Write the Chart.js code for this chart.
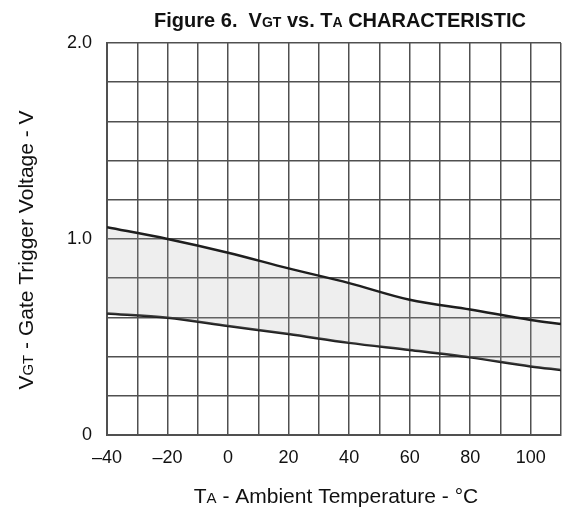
<!DOCTYPE html>
<html>
<head>
<meta charset="utf-8">
<script src="https://cdn.jsdelivr.net/npm/chart.js@4"></script>
<style>
  html, body { margin: 0; padding: 0; background: #fff; }
  #wrap { width: 573px; height: 510px; }
</style>
</head>
<body>
<div id="wrap"><canvas id="vgtChart" width="573" height="510"></canvas></div>
<script>
  // temperatures (°C)
  var temps = [-40, -20, 0, 20, 40, 60, 80, 100, 110];
  // upper and lower bound of the VGT band (V)
  var vgtUpper = [1.06, 1.0, 0.93, 0.85, 0.775, 0.69, 0.64, 0.587, 0.566];
  var vgtLower = [0.62, 0.598, 0.556, 0.515, 0.47, 0.434, 0.396, 0.35, 0.332];

  var xLabels = [-40, -20, 0, 20, 40, 60, 80, 100];
  var yLabels = { 0: '0', 1: '1.0', 2: '2.0' };

  var FONT = '"Liberation Sans", Arial, sans-serif';
  var gridColor = '#505050';

  function toPoints(xs, ys) {
    return xs.map(function (x, i) { return { x: x, y: ys[i] }; });
  }

  // draws a line of text made of several pieces with different fonts
  function drawParts(ctx, parts, cx, cy) {
    var total = 0;
    parts.forEach(function (p) { ctx.font = p[1]; total += ctx.measureText(p[0]).width; });
    var x = cx - total / 2;
    parts.forEach(function (p) {
      ctx.font = p[1];
      ctx.fillText(p[0], x, cy);
      x += ctx.measureText(p[0]).width;
    });
  }

  var textPlugin = {
    id: 'richText',
    afterDraw: function (chart) {
      var ctx = chart.ctx;
      var area = chart.chartArea;
      var mid = (area.left + area.right) / 2;
      ctx.save();
      ctx.fillStyle = '#111';
      ctx.textBaseline = 'alphabetic';

      var big = 'bold 20px ' + FONT, small = 'bold 14px ' + FONT;
      drawParts(ctx, [['Figure 6.  V', big], ['GT', small], [' vs. T', big], ['A', small], [' CHARACTERISTIC', big]], mid + 6, 27);

      // axis titles
      var n = '21px ' + FONT, s = '15px ' + FONT;
      drawParts(ctx, [['T', n], ['A', s], [' - Ambient Temperature - \u00b0C', n]], mid + 2, 503);

      ctx.translate(33, 250);
      ctx.rotate(-Math.PI / 2);
      drawParts(ctx, [['V', n], ['GT', s], [' - Gate Trigger Voltage - V', n]], 0, 0);
      ctx.restore();
    }
  };

  new Chart(document.getElementById('vgtChart').getContext('2d'), {
    type: 'line',
    data: {
      datasets: [
        {
          label: 'upper',
          data: toPoints(temps, vgtUpper),
          borderColor: '#1e1e1e',
          borderWidth: 2.5,
          backgroundColor: 'rgba(170,170,170,0.2)',
          fill: '+1',
          pointRadius: 0,
          cubicInterpolationMode: 'monotone'
        },
        {
          label: 'lower',
          data: toPoints(temps, vgtLower),
          borderColor: '#1e1e1e',
          borderWidth: 2.5,
          fill: false,
          pointRadius: 0,
          cubicInterpolationMode: 'monotone'
        }
      ]
    },
    options: {
      responsive: false,
      animation: false,
      layout: { padding: { top: 43, right: 12, left: 0, bottom: 0 } },
      plugins: {
        legend: { display: false },
        tooltip: { enabled: false }
      },
      scales: {
        x: {
          type: 'linear',
          min: -40,
          max: 110,
          afterFit: function (scale) { scale.height = 75; },
          grid: { color: gridColor, lineWidth: 1.5, drawTicks: false },
          border: { color: gridColor, width: 2 },
          ticks: {
            stepSize: 10,
            padding: 12,
            color: '#111',
            font: { family: FONT, size: 18 },
            maxRotation: 0,
            autoSkip: false,
            callback: function (v) {
              if (xLabels.indexOf(v) < 0) return '';
              return v < 0 ? '\u2013' + (-v) : String(v);
            }
          }
        },
        y: {
          min: 0,
          max: 2,
          afterFit: function (scale) { scale.width = 107; },
          grid: { color: gridColor, lineWidth: 1.5, drawTicks: false },
          border: { color: gridColor, width: 2 },
          ticks: {
            stepSize: 0.2,
            padding: 15,
            color: '#111',
            font: { family: FONT, size: 18 },
            autoSkip: false,
            callback: function (v) {
              var r = Math.round(v * 10) / 10;
              return (r in yLabels && Math.abs(v - r) < 1e-6) ? yLabels[r] : '';
            }
          }
        }
      }
    },
    plugins: [textPlugin]
  });
</script>
</body>
</html>
